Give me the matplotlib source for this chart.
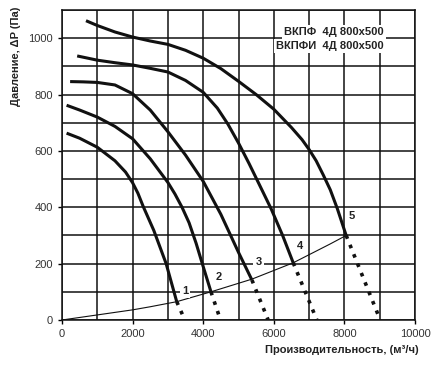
import matplotlib.pyplot as plt

plt.rcParams['font.family'] = ['Liberation Sans', 'DejaVu Sans']

# fan curves (flow m3/h, pressure Pa)
q1 = [130, 500, 1000, 1500, 1800, 2000, 2150, 2300, 2600, 2950, 3250]
p1 = [663, 645, 613, 565, 525, 487, 450, 403, 318, 200, 65]
q2 = [130, 500, 1000, 1500, 2000, 2500, 3000, 3200, 3400, 3600, 3800, 3950, 4220]
p2 = [762, 745, 720, 687, 643, 572, 488, 447, 400, 345, 272, 210, 100]
q3 = [230, 600, 1000, 1500, 2000, 2500, 3000, 3500, 4000, 4500, 5000, 5380]
p3 = [846, 845, 843, 834, 803, 745, 668, 585, 492, 375, 240, 142]
q4 = [430, 1000, 1500, 2000, 2500, 3000, 3500, 4000, 4400, 4700, 5000, 5300,
      5600, 5930, 6250, 6550]
p4 = [937, 922, 913, 905, 893, 880, 850, 808, 752, 695, 628, 555,
      478, 393, 300, 203]
q5 = [680, 1000, 1500, 2000, 2500, 3000, 3500, 4000, 4500, 5000, 5500, 6000,
      6500, 6800, 7000, 7200, 7400, 7600, 7800, 8050]
p5 = [1062, 1045, 1022, 1004, 990, 978, 957, 929, 892, 847, 800, 748,
      683, 640, 605, 565, 515, 462, 395, 300]

# dotted tails down to zero pressure
tail_q0 = [3250, 4220, 5380, 6550, 8050]
tail_p0 = [65, 100, 142, 203, 300]
tail_q1 = [3480, 4490, 5840, 7220, 9015]

# network (system) line
qs = [0, 1000, 2000, 2500, 3250, 4220, 5380, 6550, 7600, 8050]
ps = [0, 18, 36, 47, 65, 100, 145, 203, 270, 300]

# curve numbers
lab = ['1', '2', '3', '4', '5']
lab_q = [3480, 4440, 5570, 6730, 8220]
lab_p = [104, 151, 205, 262, 369]

fig = plt.figure(figsize=(4.39, 3.70), dpi=100)
ax = fig.add_axes([62/439, 1-320/370, 353/439, 310/370])

ax.set_xlim(0, 10000)
ax.set_ylim(0, 1100)
ax.set_xticks(range(0, 10001, 2000))
ax.set_yticks(range(0, 1001, 200))
ax.set_xticks(range(0, 10001, 1000), minor=True)
ax.set_yticks(range(0, 1101, 100), minor=True)
ax.grid(True, which='both', color='#111111', lw=1.1)
ax.set_axisbelow(True)
ax.tick_params(which='major', direction='out', length=3, width=1,
               labelsize=8, labelcolor='#333333')
ax.tick_params(which='minor', length=0)
for s in ax.spines.values():
    s.set_color('#111111')
    s.set_linewidth(1.1)

for q, p in [(q1, p1), (q2, p2), (q3, p3), (q4, p4), (q5, p5)]:
    ax.plot(q, p, color='#111111', lw=2.2, solid_capstyle='butt',
            solid_joinstyle='round', zorder=3)

for a, b, c in zip(tail_q0, tail_p0, tail_q1):
    ax.plot([a, c], [b, 0], color='#111111', lw=2.6,
            linestyle=(0, (1.0, 1.8)), zorder=3)

ax.plot(qs, ps, color='#111111', lw=0.8, zorder=3)

for t, x, y in zip(lab, lab_q, lab_p):
    ax.text(x, y, t, fontsize=8, fontweight='bold', ha='center', va='center',
            color='#222222', zorder=4,
            bbox=dict(facecolor='white', edgecolor='none', pad=1.5))

ax.text(9110, 1021, 'ВКПФ  4Д 800x500', fontsize=8, fontweight='bold',
        ha='right', va='center', color='#222222', zorder=4,
        bbox=dict(facecolor='white', edgecolor='none', pad=1.5))
ax.text(9110, 971, 'ВКПФИ  4Д 800x500', fontsize=8, fontweight='bold',
        ha='right', va='center', color='#222222', zorder=4,
        bbox=dict(facecolor='white', edgecolor='none', pad=1.5))

fig.text(16/439, 1-56/370, 'Давление, ΔP (Па)', rotation=90, fontsize=8,
         fontweight='bold', ha='center', va='center', color='#222222')
fig.text(419/439, 1-350/370, 'Производительность, (м³/ч)', fontsize=8,
         fontweight='bold', ha='right', va='center', color='#222222')

fig.savefig('out.png', dpi=100)
